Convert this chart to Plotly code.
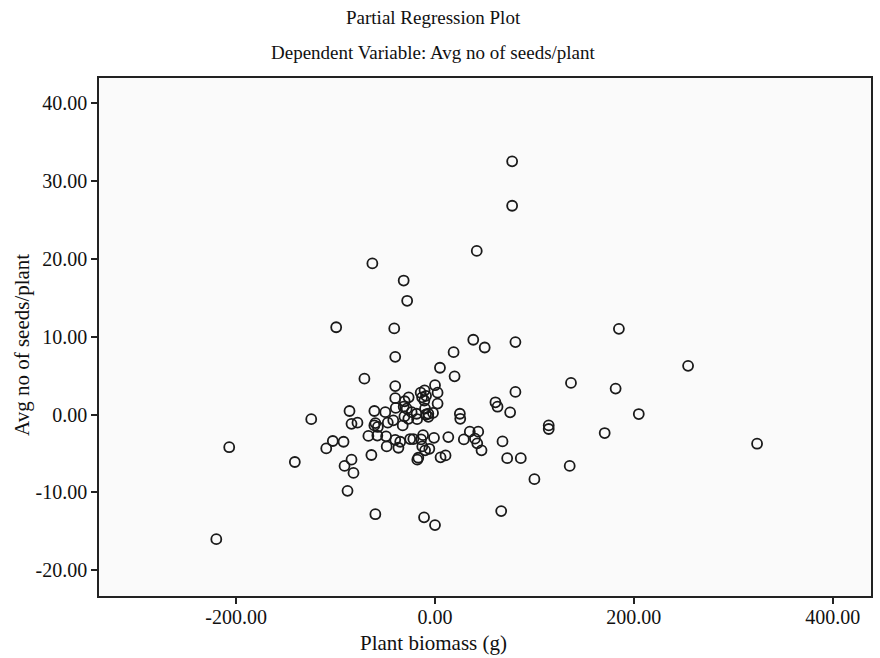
import plotly.graph_objects as go

# Partial regression residuals
plant_biomass = [
    -220, -207, -141, -124.5, -109.4, -102.8, -92, -99.4, -86, -84, -78, -91, -84, -82, -88,
    -71, -63, -31.5, -28, -41, -40, -64, -60, -11, 0, 42, 38.5, 77.6, 77.6, 80.9, 50,
    18.7, 5, 19.7, 185, 254.6, 136.8, 181.7, 80.9, 60.8, 62.9, 75.6, 205, 114.4, 114.4,
    170.7, 43.5, 35, 40.2, 42.5, 67.9, 46.8, 324, 72.6, 86.3, 135.5, 100, 66.6, 25, 25.4,
    13.4, 29, 5.6, 10.6,
    -40, 0, -14.4, -10.5, 2.6, -40, -26.5, -30.5, -13, -9, -10.7, 2.6, -39.5, -31.5, -61,
    -50, -23.5, -18.5, -10, -9, -2, -28.5, -6.7, -30.8, -60, -61, -57.5, -47.5, -32.5, -18,
    -26.8, -6.7, -67, -58, -49.2, -40, -35, -48.6, -36.8, -25, -21.8, -14, -12, -1, -12.8,
    -5.7, -10, -16.8, -17.8, -42,
]
avg_seeds = [
    -16.0, -4.2, -6.1, -0.6, -4.35, -3.4, -3.5, 11.2, 0.45, -1.2, -1.05, -6.6, -5.8, -7.5, -9.8,
    4.6, 19.4, 17.2, 14.6, 11.05, 7.4, -5.2, -12.8, -13.2, -14.2, 21.0, 9.6, 32.5, 26.8, 9.3, 8.6,
    8.0, 6.0, 4.9, 11.0, 6.25, 4.06, 3.33, 2.9, 1.57, 1.0, 0.28, 0.06, -1.4, -1.86,
    -2.38, -2.2, -2.2, -3.1, -3.7, -3.45, -4.6, -3.75, -5.6, -5.6, -6.6, -8.3, -12.4, 0.1, -0.55,
    -2.9, -3.2, -5.5, -5.25,
    3.65, 3.76, 2.8, 3.1, 2.8, 2.1, 2.2, 1.7, 2.2, 2.4, 1.8, 1.4, 0.85, 1.0, 0.45,
    0.3, 0.3, 0.1, 0.76, 0.0, 0.2, 0.75, 0.1, -0.25, -1.1, -1.4, -1.6, -1.05, -1.4, -0.6,
    -0.55, -0.3, -2.75, -2.7, -2.8, -3.25, -3.5, -4.1, -4.27, -3.15, -3.15, -3.2, -2.65, -3.0, -4.1,
    -4.4, -4.6, -5.55, -5.8, -0.75,
]

x_ticks = [-200, 0, 200, 400]
x_tick_labels = ["-200.00", "0.00", "200.00", "400.00"]
y_ticks = [-20, -10, 0, 10, 20, 30, 40]
y_tick_labels = ["-20.00", "-10.00", "0.00", "10.00", "20.00", "30.00", "40.00"]

title_line1 = "Partial Regression Plot"
title_line2 = "Dependent Variable: Avg no of seeds/plant"
x_title = "Plant biomass (g)"
y_title = "Avg no of seeds/plant"

FONT = "Liberation Serif, Times New Roman, serif"

fig = go.Figure()
fig.add_trace(go.Scatter(
    x=plant_biomass, y=avg_seeds, mode="markers",
    marker=dict(symbol="circle-open", size=10, color="#1a1a1a", line=dict(width=1.8, color="#1a1a1a")),
    hoverinfo="x+y", showlegend=False,
))

axis_common = dict(
    showgrid=False, zeroline=False, showline=True, linecolor="#222", linewidth=1.6,
    mirror=True, ticks="outside", ticklen=6, tickwidth=1.6, tickcolor="#222",
    tickfont=dict(family=FONT, size=20, color="#111"), tickmode="array",
)

fig.update_layout(
    width=880, height=658,
    margin=dict(l=99, r=7, t=78, b=62),
    paper_bgcolor="white", plot_bgcolor="#fafafa",
    xaxis=dict(range=[-338, 438.6], tickvals=x_ticks, ticktext=x_tick_labels,
               ticklabelstandoff=-4, **axis_common),
    yaxis=dict(range=[-23.3, 43.2], tickvals=y_ticks, ticktext=y_tick_labels, **axis_common),
    annotations=[
        dict(text=title_line1, xref="paper", yref="paper", x=0.433, y=1.116, showarrow=False,
             xanchor="center", yanchor="middle", font=dict(family=FONT, size=19, color="#111")),
        dict(text=title_line2, xref="paper", yref="paper", x=0.433, y=1.050, showarrow=False,
             xanchor="center", yanchor="middle", font=dict(family=FONT, size=19, color="#111")),
        dict(text=x_title, xref="paper", yref="paper", x=0.433, y=-0.091, showarrow=False,
             xanchor="center", yanchor="middle", font=dict(family=FONT, size=21, color="#111")),
        dict(text=y_title, xref="paper", yref="paper", x=-0.0995, y=0.485, showarrow=False,
             textangle=-90, xanchor="center", yanchor="middle", font=dict(family=FONT, size=21, color="#111")),
    ],
)

fig.write_html("out.html", post_script="document.body.style.margin='0';",
               config={"displayModeBar": False})
